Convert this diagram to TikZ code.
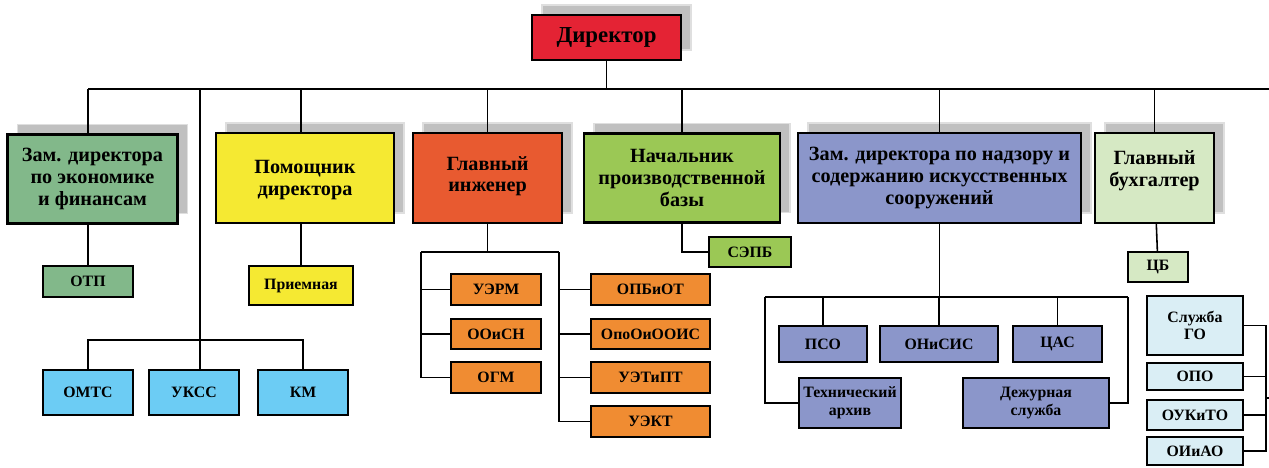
\documentclass[tikz,border=0pt]{standalone}
\usepackage{fontspec}
\setmainfont{Liberation Serif}
\usetikzlibrary{shadows}

\definecolor{dirred}{RGB}{228,35,52}
\definecolor{ecogreen}{RGB}{130,184,138}
\definecolor{pomyellow}{RGB}{245,233,50}
\definecolor{engred}{RGB}{232,90,48}
\definecolor{basegreen}{RGB}{155,200,85}
\definecolor{nadzblue}{RGB}{139,150,202}
\definecolor{buhgreen}{RGB}{214,233,196}
\definecolor{deporange}{RGB}{240,140,50}
\definecolor{depblue}{RGB}{108,204,244}
\definecolor{palblue}{RGB}{218,238,245}
\definecolor{shadowgray}{RGB}{192,192,192}

\begin{document}
\begin{tikzpicture}[x=0.02cm, y=-0.02cm, line width=0.9pt,
	box/.style={draw, line width=1.2pt, align=center, inner sep=1pt},
	sz/.style 2 args={minimum width=#1*0.02cm, minimum height=#2*0.02cm},
	big/.style={font=\rmfamily\fontsize{11.5}{12.5}\selectfont\bfseries},
	small/.style={font=\rmfamily\fontsize{9}{10}\selectfont\bfseries},
	shade/.style={general shadow={fill=shadowgray, draw=gray!25, line width=0.6pt, shadow xshift=0.2cm, shadow yshift=0.2cm}}]
	\useasboundingbox (0,0) rectangle (1269,467);
	% top
	\node[box, shade, fill=dirred, sz={149}{45}, font=\rmfamily\fontsize{13}{15}\selectfont\bfseries] (dir) at (606.5,37.5) {Директор};
	\node[box, shade, fill=ecogreen, sz={170}{89}, big] (zam) at (92.5,179) {Зам. директора\\по экономике\\и финансам};
	\node[box, shade, fill=pomyellow, sz={178}{90}, big] (pom) at (305,178) {Помощник\\директора\\[-12pt]};
	\node[box, shade, fill=engred, sz={149}{90}, big] (glav) at (487.5,178) {Главный\\инженер\\[-8pt]};
	\node[box, shade, fill=basegreen, sz={196}{89}, big] (nach) at (682,178) {Начальник\\производственной\\базы};
	\node[box, shade, fill=nadzblue, sz={283}{90}, big] (nadz) at (939.5,178) {Зам. директора по надзору и\\содержанию искусственных\\сооружений};
	\node[box, shade, fill=buhgreen, sz={119}{90}, big] (buh) at (1154.5,178) {Главный\\бухгалтер\\[-2pt]};
	% left
	\node[box, fill=ecogreen, sz={90}{31}, small] (otp) at (88,281.5) {ОТП};
	\node[box, fill=pomyellow, sz={104}{39}, small] (priem) at (301,285.5) {Приемная};
	\node[box, fill=depblue, sz={90}{45}, small] (omts) at (88,392.5) {ОМТС};
	\node[box, fill=depblue, sz={90}{45}, small] (ukss) at (194,392.5) {УКСС};
	\node[box, fill=depblue, sz={90}{45}, small] (km) at (303,392.5) {КМ};
	% engineer
	\node[box, fill=deporange, sz={90}{31}, small] (uerm) at (496,289.5) {УЭРМ};
	\node[box, fill=deporange, sz={90}{30}, small] (oosn) at (496,334) {ООиСН};
	\node[box, fill=deporange, sz={90}{31}, small] (ogm) at (496,377.5) {ОГМ};
	\node[box, fill=deporange, sz={119}{31}, small] (opbot) at (650.5,289.5) {ОПБиОТ};
	\node[box, fill=deporange, sz={119}{30}, small] (opo) at (650.5,334) {ОпоОиООИС};
	\node[box, fill=deporange, sz={119}{31}, small] (uetipt) at (650.5,377.5) {УЭТиПТ};
	\node[box, fill=deporange, sz={119}{31}, small] (uekt) at (650.5,421.5) {УЭКТ};
	\node[box, fill=basegreen, sz={82}{30}, small] (sepb) at (750,252) {СЭПБ};
	% nadzor
	\node[box, fill=nadzblue, sz={88}{36}, small] (pso) at (823,344) {ПСО};
	\node[box, fill=nadzblue, sz={118}{36}, small] (onisis) at (939,344) {ОНиСИС};
	\node[box, fill=nadzblue, sz={89}{36}, small] (cas) at (1057.5,344) {ЦАС};
	\node[box, fill=nadzblue, sz={102}{50}, small] (arch) at (850,403) {Технический\\архив};
	\node[box, fill=nadzblue, sz={146}{50}, small] (duty) at (1036,403) {Дежурная\\служба};
	% right
	\node[box, fill=buhgreen, sz={60}{30}, small] (cb) at (1158,267) {ЦБ};
	\node[box, fill=palblue, sz={96}{59}, small] (sgo) at (1195,325.5) {Служба\\ГО};
	\node[box, fill=palblue, sz={96}{27}, small] (opo2) at (1195,376.5) {ОПО};
	\node[box, fill=palblue, sz={96}{30}, small] (oukito) at (1195,415) {ОУКиТО};
	\node[box, fill=palblue, sz={96}{28}, small] (oiiao) at (1195,451) {ОИиАО};

	\coordinate (bl) at (88,89);
	\coordinate (br) at (1269,89);
	\coordinate (lj) at (200,340);
	\coordinate (gl) at (421,252);
	\coordinate (gr) at (559,252);
	\coordinate (nl) at (765,297);
	\coordinate (nr) at (1128,297);
	\coordinate (sb) at (1266,398);

	\draw (dir) -- (dir |- bl);
	\draw (bl) -- (br);
	\draw (bl) -- (zam.north -| bl);
	\draw (zam.south -| otp) -- (otp);
	\draw (lj |- bl) -- (lj) -- (lj |- ukss.north);
	\draw (omts) |- (lj) -| (km);
	\draw (pom.north -| priem) -- (priem |- bl);
	\draw (pom.south -| priem) -- (priem);
	\draw (glav) -- (glav |- bl);
	\draw (glav) -- (glav |- gl);
	\draw (gl) -- (gr);
	\draw (gl) |- (ogm);
	\draw (gl |- uerm) -- (uerm);
	\draw (gl |- oosn) -- (oosn);
	\draw (gr) |- (uekt);
	\draw (gr |- opbot) -- (opbot);
	\draw (gr |- opo) -- (opo);
	\draw (gr |- uetipt) -- (uetipt);
	\draw (nach) -- (nach |- bl);
	\draw (nach) |- (sepb);
	\draw (nadz) -- (nadz |- bl);
	\draw (nadz) -- (nadz |- nl);
	\draw (nl) -- (nr);
	\draw (nl) |- (arch);
	\draw (nr) |- (duty);
	\draw (pso) -- (pso |- nl);
	\draw (onisis) -- (onisis |- nl);
	\draw (cas) -- (cas |- nl);
	\draw (buh) -- (buh |- bl);
	\draw (buh) -- (cb);
	\draw (sgo) -| (sb);
	\draw (oiiao) -| (sb);
	\draw (opo2) -- (opo2 -| sb);
	\draw (oukito) -- (oukito -| sb);
	\draw (sb) -- (sb -| br);
\end{tikzpicture}
\end{document}
